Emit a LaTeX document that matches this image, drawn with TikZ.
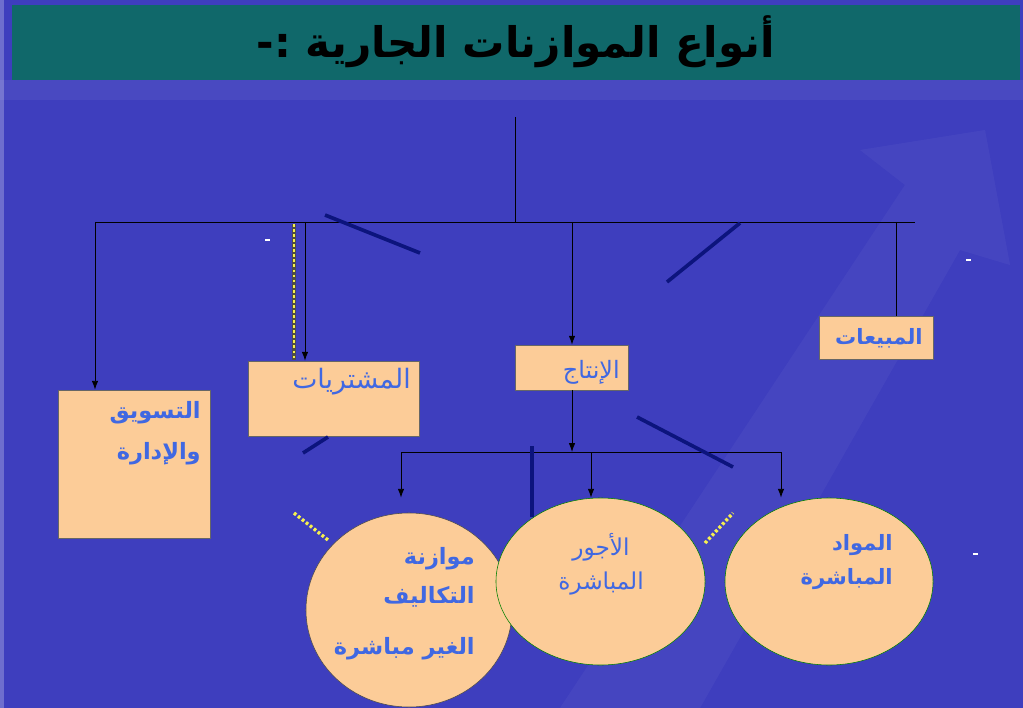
\documentclass[tikz,border=0pt]{standalone}
\usepackage{fontspec}
\newfontfamily\arabicfont[Script=Arabic]{DejaVu Sans}
\TeXXeTstate=1
\usetikzlibrary{shapes.geometric,arrows.meta}
\definecolor{bgblue}{RGB}{62,62,190}
\definecolor{titleteal}{RGB}{16,104,106}
\definecolor{peach}{RGB}{252,204,152}
\definecolor{txtblue}{RGB}{64,104,226}
\definecolor{navyline}{RGB}{12,20,125}
\definecolor{dotyellow}{RGB}{246,240,80}
\tikzset{
	box/.style={draw=black!60, line width=0.4pt, fill=peach, rectangle, inner sep=0pt},
	oval/.style={draw=black!70, line width=0.4pt, fill=peach, ellipse, inner sep=0pt},
	lbl/.style={text=txtblue, font=\arabicfont\fontsize{17}{27}\selectfont, inner sep=0pt},
	conn/.style={line width=0.6pt, black},
	arr/.style={line width=0.6pt, black, -{Latex[length=2.2mm,width=1.6mm]}},
	stroke/.style={line width=2.6pt, navyline},
	dots/.style={line width=2.4pt, dotyellow, dash pattern=on 2pt off 1.6pt}
}

\begin{document}
\begin{tikzpicture}[x=0.025cm, y=-0.025cm]
		%%%%% BACKGROUND %%%%%
		\useasboundingbox (0,0) rectangle (1023,708);
		\fill[bgblue] (0,0) rectangle (1023,708);
		\fill[white, opacity=0.25] (0,0) rectangle (4,708);
		\fill[white, opacity=0.04] (560,708) -- (700,708) -- (960,250) -- (1010,265) -- (985,130) -- (860,150) -- (905,185) -- cycle;
		\fill[white, opacity=0.06] (0,80) -- (1023,80) -- (1023,100) -- (0,100) -- cycle;
		\fill[titleteal] (12,5) rectangle (1020,80);
		\node[font=\arabicfont\bfseries\fontsize{30}{36}\selectfont] (title) at (516,42) {\beginR أنواع الموازنات الجارية :-\endR};
		
		%%%%% BOXES %%%%%
		\node[box, minimum width=3.8cm, minimum height=3.7cm] (tasweeq) at (134,464) {};
		\node[box, minimum width=4.275cm, minimum height=1.875cm] (mushtarayat) at (333.5,398.5) {};
		\node[box, minimum width=2.825cm, minimum height=1.125cm] (intaj) at (571.5,367.5) {};
		\node[box, minimum width=2.85cm, minimum height=1.075cm] (mabiat) at (876,337.5) {};
		
		\node[lbl, font=\arabicfont\bfseries\fontsize{16}{29}\selectfont, align=right, anchor=north east] (tasweeqtxt) at (201,401) {\beginR التسويق\endR\\\beginR والإدارة\endR};
		\node[lbl, font=\arabicfont\fontsize{19}{24}\selectfont, anchor=east] (mushtarayattxt) at (411,382) {\beginR المشتريات\endR};
		\node[lbl, anchor=east] (intajtxt) at (620,372) {\beginR الإنتاج\endR};
		\node[lbl, font=\arabicfont\bfseries\fontsize{15}{20}\selectfont, anchor=east] (mabiattxt) at (923,338) {\beginR المبيعات\endR};
		
		%%%%% OVALS %%%%%
		\node[oval, minimum width=5.15cm, minimum height=4.85cm] (takalif) at (409,610) {};
		\node[oval, draw=black!50!green, minimum width=5.225cm, minimum height=4.175cm] (ujur) at (600.5,581.5) {};
		\node[oval, draw=black!50!green, minimum width=5.2cm, minimum height=4.175cm] (mawad) at (829,581.5) {};
		
		\node[lbl, font=\arabicfont\bfseries\fontsize{16}{28}\selectfont, align=right, anchor=north east] (takaliftxt) at (475,547) {\beginR موازنة\endR\\\beginR التكاليف\endR\\[8pt]\beginR الغير مباشرة\endR};
		\node[lbl, font=\arabicfont\fontsize{16.5}{24}\selectfont, align=center] (ujurtxt) at (601,564) {\beginR الأجور\endR\\\beginR المباشرة\endR};
		\node[lbl, font=\arabicfont\bfseries\fontsize{15}{24}\selectfont, align=right, anchor=north east] (mawadtxt) at (893,534) {\beginR المواد\endR\\\beginR المباشرة\endR};
		
		%%%%% CONNECTORS %%%%%
		\coordinate (top) at (515,117);
		\coordinate (busL) at (95,222);
		\coordinate (busR) at (915,222);
		\coordinate (busM) at (305,222);
		\coordinate (busI) at (572,222);
		\coordinate (busS) at (896,222);
		\draw[conn] (top) -- (top |- busL);
		\draw[conn] (busL) -- (busR);
		\draw[arr] (busL) -- (busL |- tasweeq.north);
		\draw[arr] (busM) -- (busM |- mushtarayat.north);
		\draw[arr] (busI) -- (busI |- intaj.north);
		\draw[conn] (busS) -- (busS |- mabiat.north);
		
		\coordinate (sub) at (572,452);
		\coordinate (subL) at (401,452);
		\coordinate (subM) at (591,452);
		\coordinate (subR) at (781,452);
		\draw[arr] (intaj.south -| sub) -- (sub);
		\draw[conn] (subL) -- (subR);
		\draw[arr] (subL) -- (subL |- ujur.north);
		\draw[arr] (subM) -- (subM |- ujur.north);
		\draw[arr] (subR) -- (subR |- mawad.north);
		
		%%%%% STROKES %%%%%
		\draw[stroke] (325,215) -- (420,253);
		\draw[stroke] (667,282) -- (740,223);
		\draw[stroke] (303,453) -- (328,437);
		\draw[stroke] (637,417) -- (733,467);
		\draw[stroke] (532,446) -- (532,517);
		\draw[black!70, line width=2.4pt] (294,224) -- (294,360);
		\draw[dots, line width=1.8pt] (294,224) -- (294,360);
		\draw[dots] (294,513) -- (328,540);
		\draw[dots] (705,543) -- (733,513);
		
		\draw[white, line width=0.8pt] (265,240) -- (270,240);
		\draw[white, line width=0.8pt] (966,260) -- (971,260);
		\draw[white, line width=0.8pt] (973,554) -- (978,554);
\end{tikzpicture}
\end{document}
